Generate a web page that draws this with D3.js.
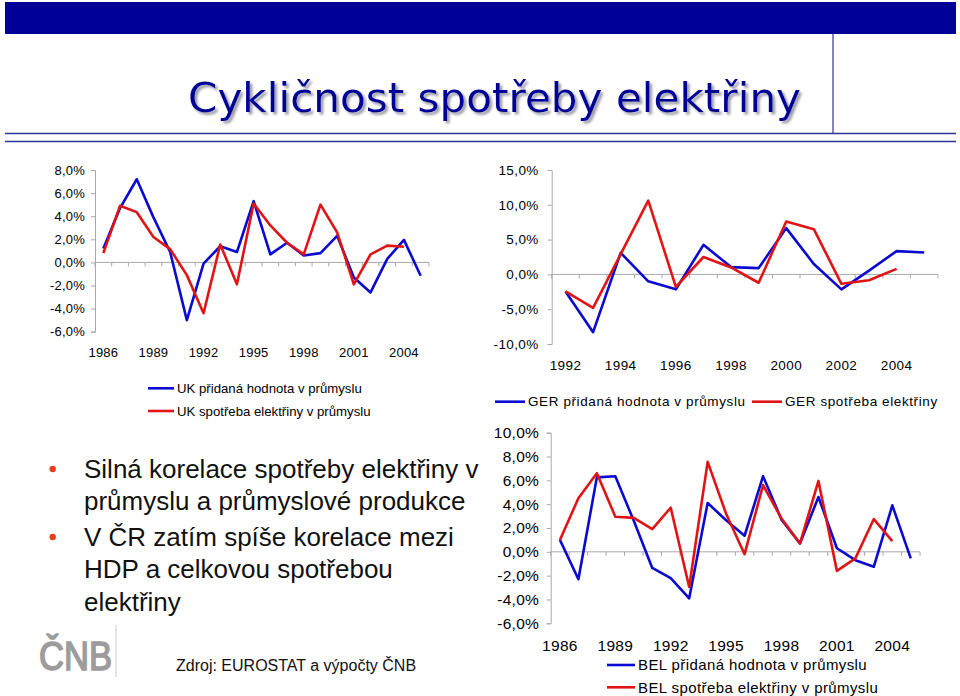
<!DOCTYPE html>
<html>
<head>
<meta charset="utf-8">
<script src="https://cdn.jsdelivr.net/npm/d3@7"></script>
<style>
  html, body { margin: 0; padding: 0; background: #fff; }
  svg { display: block; }
</style>
</head>
<body>
<svg id="chart" width="960" height="696"></svg>
<script>
// ---------------- DATA ----------------
const ukYears = [1986,1987,1988,1989,1990,1991,1992,1993,1994,1995,1996,1997,1998,1999,2000,2001,2002,2003,2004,2005];
const ukValueAdded = [1.2,4.7,7.2,3.9,0.9,-5.0,-0.1,1.4,0.9,5.3,0.7,1.7,0.6,0.8,2.3,-1.3,-2.6,0.3,1.95,-1.15];
const ukElectricity = [0.8,4.9,4.35,2.2,1.15,-1.1,-4.4,1.55,-1.9,5.1,3.2,1.7,0.7,5.0,2.6,-1.9,0.7,1.45,1.35];
const ukYTicks = [-6,-4,-2,0,2,4,6,8];
const ukXLabels = [1986,1989,1992,1995,1998,2001,2004];

const gerYears = [1992,1993,1994,1995,1996,1997,1998,1999,2000,2001,2002,2003,2004,2005];
const gerValueAdded = [-2.45,-8.3,3.1,-1.0,-2.15,4.25,1.05,0.9,6.65,1.5,-2.15,0.55,3.35,3.15];
const gerElectricity = [-2.45,-4.8,2.9,10.6,-1.8,2.5,1.0,-1.2,7.6,6.5,-1.35,-0.85,0.8];
const gerYTicks = [-10,-5,0,5,10,15];
const gerXLabels = [1992,1994,1996,1998,2000,2002,2004];

const belYears = [1986,1987,1988,1989,1990,1991,1992,1993,1994,1995,1996,1997,1998,1999,2000,2001,2002,2003,2004,2005];
const belValueAdded = [1.0,-2.3,6.25,6.35,2.6,-1.35,-2.2,-3.9,4.1,2.65,1.35,6.35,2.7,0.7,4.6,0.3,-0.7,-1.25,3.9,-0.55];
const belElectricity = [1.0,4.5,6.6,2.95,2.85,1.9,3.7,-2.95,7.55,3.2,-0.2,5.6,2.8,0.7,5.95,-1.6,-0.55,2.75,0.9];
const belYTicks = [-6,-4,-2,0,2,4,6,8,10];
const belXLabels = [1986,1989,1992,1995,1998,2001,2004];

const title = "Cykličnost spotřeby elektřiny";
const bullets = [
  ["Silná korelace spotřeby elektřiny v", "průmyslu a průmyslové produkce"],
  ["V ČR zatím spíše korelace mezi", "HDP a celkovou spotřebou", "elektřiny"]
];
const sourceText = "Zdroj: EUROSTAT a výpočty ČNB";
const ukLegend = ["UK přidaná hodnota v průmyslu", "UK spotřeba elektřiny v průmyslu"];
const gerLegend = ["GER přidaná hodnota v průmyslu", "GER spotřeba elektřiny"];
const belLegend = ["BEL přidaná hodnota v průmyslu", "BEL spotřeba elektřiny v průmyslu"];

// ---------------- STYLE ----------------
const BLUE = "#0a0ad0";
const RED = "#e01414";
const NAVY = "#000099";
const AXIS = "#a8a8a8";
const FONT = "'Liberation Sans', Arial, sans-serif";

const svg = d3.select("#chart");
svg.append("rect").attr("width", 960).attr("height", 696).attr("fill", "#fff");

// ---------------- HEADER ----------------
svg.append("rect").attr("x", 5).attr("y", 2).attr("width", 951).attr("height", 32).attr("fill", NAVY);
svg.append("line").attr("x1", 833).attr("x2", 833).attr("y1", 34).attr("y2", 133.5)
  .attr("stroke", "#333399").attr("stroke-width", 1.2);
[133.5, 141.5].forEach(yy => {
  svg.append("line").attr("x1", 5).attr("x2", 956).attr("y1", yy).attr("y2", yy)
    .attr("stroke", "#333399").attr("stroke-width", 1.5);
});
const defs = svg.append("defs");
const f = defs.append("filter").attr("id", "shadow").attr("x", "-5%").attr("y", "-20%")
  .attr("width", "110%").attr("height", "150%");
f.append("feDropShadow").attr("dx", 2.5).attr("dy", 2.5).attr("stdDeviation", 1.1)
  .attr("flood-color", "#8a8a98").attr("flood-opacity", 0.85);
svg.append("text").attr("x", 188).attr("y", 111.7)
  .attr("font-family", "'DejaVu Sans', Verdana, sans-serif").attr("font-size", 41)
  .attr("textLength", 613).attr("lengthAdjust", "spacingAndGlyphs")
  .attr("fill", NAVY).attr("filter", "url(#shadow)").text(title);

// ---------------- CHART HELPER ----------------
function drawChart(cfg) {
  const g = svg.append("g");
  const x = d3.scalePoint().domain(cfg.years).range([cfg.x0, cfg.x1]).padding(0.5);
  const y = d3.scaleLinear().domain(cfg.yDomain).range(cfg.yRange);
  const step = x.step();

  // y axis
  const yAxis = d3.axisLeft(y).tickValues(cfg.yTicks).tickSizeOuter(0).tickSize(4)
    .tickPadding(cfg.yPad)
    .tickFormat(d => d.toFixed(1).replace(".", ",") + "%");
  const ya = g.append("g").attr("transform", `translate(${cfg.x0},0)`).call(yAxis);
  ya.select(".domain").attr("stroke", AXIS);
  ya.selectAll(".tick line").attr("stroke", AXIS);
  ya.selectAll(".tick text").attr("font-family", FONT).attr("font-size", cfg.fs)
    .attr("fill", "#000").attr("letter-spacing", cfg.ls || 0);

  // x axis line at zero
  g.append("line").attr("x1", cfg.x0).attr("x2", cfg.x1).attr("y1", y(0)).attr("y2", y(0))
    .attr("stroke", AXIS).attr("stroke-width", 1);
  g.selectAll(".xt").data(cfg.years.concat(["end"])).enter().append("line")
    .attr("x1", (d, i) => cfg.x0 + i * step).attr("x2", (d, i) => cfg.x0 + i * step)
    .attr("y1", y(0)).attr("y2", y(0) + 4).attr("stroke", AXIS);

  // x labels
  g.selectAll(".xl").data(cfg.xLabels).enter().append("text")
    .attr("x", d => x(d)).attr("y", cfg.labelY)
    .attr("text-anchor", "middle").attr("font-family", FONT).attr("font-size", cfg.fs)
    .attr("letter-spacing", cfg.ls || 0)
    .text(d => d);

  const line = d3.line().x((d, i) => x(cfg.years[i])).y(d => y(d));
  cfg.series.forEach(s => {
    g.append("path").datum(s.values).attr("d", line).attr("fill", "none")
      .attr("stroke", s.color).attr("stroke-width", 2.6).attr("stroke-linejoin", "round");
  });
}

// UK
drawChart({
  years: ukYears, x0: 95, x1: 429, yDomain: [-6, 8], yRange: [331.7, 170],
  yTicks: ukYTicks, xLabels: ukXLabels, fs: 13, yPad: 6, labelY: 356.5, ls: 0.2,
  series: [
    {values: ukValueAdded, color: BLUE},
    {values: ukElectricity, color: RED}
  ]
});
// GER
drawChart({
  years: gerYears, x0: 551.7, x1: 938, yDomain: [-10, 15], yRange: [344, 170],
  yTicks: gerYTicks, xLabels: gerXLabels, fs: 13.5, yPad: 9, labelY: 369.5, ls: 0.4,
  series: [
    {values: gerValueAdded, color: BLUE},
    {values: gerElectricity, color: RED}
  ]
});
// BEL
drawChart({
  years: belYears, x0: 550.7, x1: 920, yDomain: [-6, 10], yRange: [623.3, 432.7],
  yTicks: belYTicks, xLabels: belXLabels, fs: 15.5, yPad: 7.5, labelY: 650.5, ls: 0.3,
  series: [
    {values: belValueAdded, color: BLUE},
    {values: belElectricity, color: RED}
  ]
});

// ---------------- LEGENDS ----------------
function legendItem(x1, x2, yy, color, label, fs, ls) {
  svg.append("line").attr("x1", x1).attr("x2", x2).attr("y1", yy).attr("y2", yy)
    .attr("stroke", color).attr("stroke-width", 2.6);
  svg.append("text").attr("x", x2 + 3).attr("y", yy).attr("dy", "0.35em")
    .attr("font-family", FONT).attr("font-size", fs).attr("letter-spacing", ls)
    .text(label);
}
legendItem(148, 174, 388.3, BLUE, ukLegend[0], 13.2, 0);
legendItem(148, 174, 411, RED, ukLegend[1], 13.2, 0);
legendItem(495, 525, 401.7, BLUE, gerLegend[0], 13.5, 0.6);
legendItem(752, 782, 401.7, RED, gerLegend[1], 13.5, 0.6);
legendItem(607, 635, 665, BLUE, belLegend[0], 15, 0.4);
legendItem(607, 635, 687.3, RED, belLegend[1], 15, 0.4);

// ---------------- BULLETS ----------------
const lineBase = [[478, 510], [546, 578, 611]];
bullets.forEach((lines, bi) => {
  svg.append("circle").attr("cx", 52.7).attr("cy", lineBase[bi][0] - 9).attr("r", 3.2).attr("fill", "#e8401c");
  lines.forEach((t, li) => {
    svg.append("text").attr("x", 84).attr("y", lineBase[bi][li])
      .attr("font-family", FONT).attr("font-size", 26).attr("fill", "#111").text(t);
  });
});

// ---------------- SOURCE & LOGO ----------------
svg.append("text").attr("x", 176).attr("y", 670.7).attr("font-family", FONT)
  .attr("font-size", 16).attr("fill", "#111").text(sourceText);
svg.append("text").attr("x", 39).attr("y", 670)
  .attr("font-family", "'Liberation Sans Narrow', 'Liberation Sans', Arial, sans-serif")
  .attr("font-size", 40).attr("textLength", 73).attr("lengthAdjust", "spacingAndGlyphs")
  .attr("fill", "#9c9c9c").attr("stroke", "#9c9c9c").attr("stroke-width", 1.6)
  .text("ČNB");
svg.append("line").attr("x1", 116).attr("x2", 116).attr("y1", 625).attr("y2", 677)
  .attr("stroke", "#dcdcdc").attr("stroke-width", 1.5);
</script>
</body>
</html>
